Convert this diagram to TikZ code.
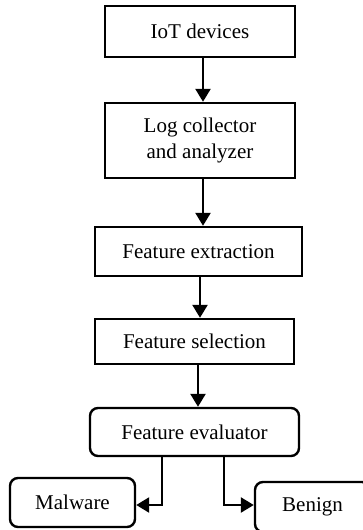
\documentclass[tikz,border=0pt]{standalone}
\usepackage{fontspec}
\setmainfont{Liberation Serif}
\usetikzlibrary{calc,arrows.meta,positioning}
\tikzset{flowarrow/.style={line width=1.2pt,-{Triangle[length=6.5pt,width=7.5pt]}}}

\begin{document}
\begin{tikzpicture}[x=0.5pt,y=-0.5pt,font=\fontsize{10.5}{13}\selectfont]

\tikzset{stepbox/.style={draw,line width=1.2pt,align=center,inner sep=0pt,shape=rectangle},
roundbox/.style={stepbox,rounded corners=4pt}}

% Frame
\useasboundingbox (0,0) rectangle (363,530);

% Pipeline boxes
\node[stepbox,minimum width=95pt,minimum height=25.5pt] (iot) at (200,31.5) {IoT devices};
\node[stepbox,minimum width=95pt,minimum height=37.5pt] (logc) at (200,140.5) {Log collector\\and analyzer};
\node[stepbox,minimum width=103.5pt,minimum height=24.5pt] (fext) at (198.5,251.5) {Feature extraction};
\node[stepbox,minimum width=99.5pt,minimum height=22.5pt] (fsel) at (194.5,341.5) {Feature selection};

% Evaluator and outcomes
\node[roundbox,minimum width=104.5pt,minimum height=24pt] (feval) at (194.5,432) {Feature evaluator};
\node[roundbox,minimum width=62.5pt,minimum height=24.5pt] (mal) at (72.5,502.5) {Malware};
\node[roundbox,minimum width=57.5pt,minimum height=25pt] (ben) at (312.5,507) {Benign};

% Vertical arrows
\draw[flowarrow] ([xshift=1.5pt]iot.south) -- ([xshift=1.5pt]iot.south |- logc.north);
\draw[flowarrow] ([xshift=1.5pt]logc.south) -- ([xshift=1.5pt]logc.south |- fext.north);
\draw[flowarrow] ([xshift=0.75pt]fext.south) -- ([xshift=0.75pt]fext.south |- fsel.north);
\draw[flowarrow] ([xshift=1.75pt]fsel.south) -- ([xshift=1.75pt]fsel.south |- feval.north);

% Branches
\draw[flowarrow] ([xshift=-16.25pt]feval.south) |- ([yshift=-1.25pt]mal.east);
\draw[flowarrow] ([xshift=14.75pt]feval.south) |- ([yshift=1pt]ben.west);

\end{tikzpicture}
\end{document}
